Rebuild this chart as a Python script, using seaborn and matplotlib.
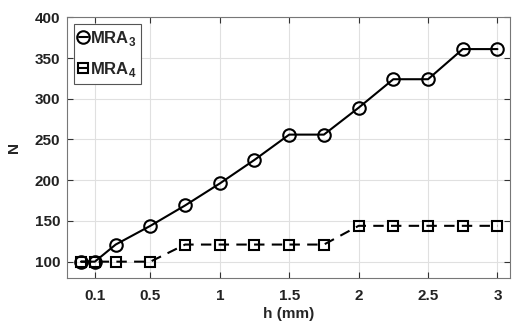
import matplotlib
matplotlib.use("Agg")
import matplotlib.pyplot as plt
import seaborn as sns
import pandas as pd

h = [0, 0.1, 0.25, 0.5, 0.75, 1, 1.25, 1.5, 1.75, 2, 2.25, 2.5, 2.75, 3]
mra3 = [100, 100, 121, 144, 169, 196, 225, 256, 256, 289, 324, 324, 361, 361]
mra4 = [100, 100, 100, 100, 121, 121, 121, 121, 121, 144, 144, 144, 144, 144]
xticks = [0.1, 0.5, 1, 1.5, 2, 2.5, 3]
xticklabels = ["0.1", "0.5", "1", "1.5", "2", "2.5", "3"]
yticks = [100, 150, 200, 250, 300, 350, 400]

sns.set_style("whitegrid")
plt.rcParams['font.family'] = ['Liberation Sans', 'DejaVu Sans']
plt.rcParams['font.weight'] = 'bold'
plt.rcParams['mathtext.fontset'] = 'custom'
plt.rcParams['mathtext.bf'] = 'Liberation Sans:bold'
plt.rcParams['mathtext.rm'] = 'Liberation Sans:bold'

fig = plt.figure(figsize=(5.12, 3.27), dpi=100)
ax = fig.add_axes([0.131, 0.150, 0.865, 0.797])

df3 = pd.DataFrame({"h": h, "N": mra3})
df4 = pd.DataFrame({"h": h, "N": mra4})

sns.lineplot(data=df3, x="h", y="N", ax=ax, color="black", linewidth=1.5,
             marker="o", markersize=9, markerfacecolor="none",
             markeredgecolor="black", markeredgewidth=1.5,
             label=r"MRA$_{\mathbf{3}}$")
sns.lineplot(data=df4, x="h", y="N", ax=ax, color="black", linewidth=1.5,
             linestyle=(0, (5, 3.5)),
             marker="s", markersize=7, markerfacecolor="none",
             markeredgecolor="black", markeredgewidth=1.5,
             label=r"MRA$_{\mathbf{4}}$")

ax.set_xlim(-0.1, 3.09)
ax.set_ylim(80, 400)
ax.set_xticks(xticks)
ax.set_xticklabels(xticklabels)
ax.set_yticks(yticks)
ax.grid(True, color="#e0e0e0", linewidth=0.8)
for s in ax.spines.values():
    s.set_visible(True)
    s.set_color("#777777")
    s.set_linewidth(0.8)
ax.tick_params(axis="both", which="both", direction="in", length=4, width=0.8,
               color="#333333", labelsize=11, labelcolor="#222222",
               top=True, right=True, bottom=True, left=True,
               labeltop=False, labelright=False)
for lab in ax.get_xticklabels() + ax.get_yticklabels():
    lab.set_fontweight("bold")
ax.tick_params(axis="x", pad=8)
ax.tick_params(axis="y", pad=5)
ax.set_xlabel("h (mm)", fontsize=11, fontweight="bold", labelpad=3)
ax.set_ylabel("N", fontsize=11, fontweight="bold", labelpad=10)

leg = ax.legend(loc="upper left", fontsize=12, handlelength=0.55,
                handletextpad=0.1, borderpad=0.3, labelspacing=0.7,
                fancybox=False, framealpha=1, borderaxespad=0.4)
leg.get_frame().set_edgecolor("#555555")
leg.get_frame().set_linewidth(0.8)
for t in leg.get_texts():
    t.set_fontweight("bold")

fig.savefig("out.png", dpi=100)
